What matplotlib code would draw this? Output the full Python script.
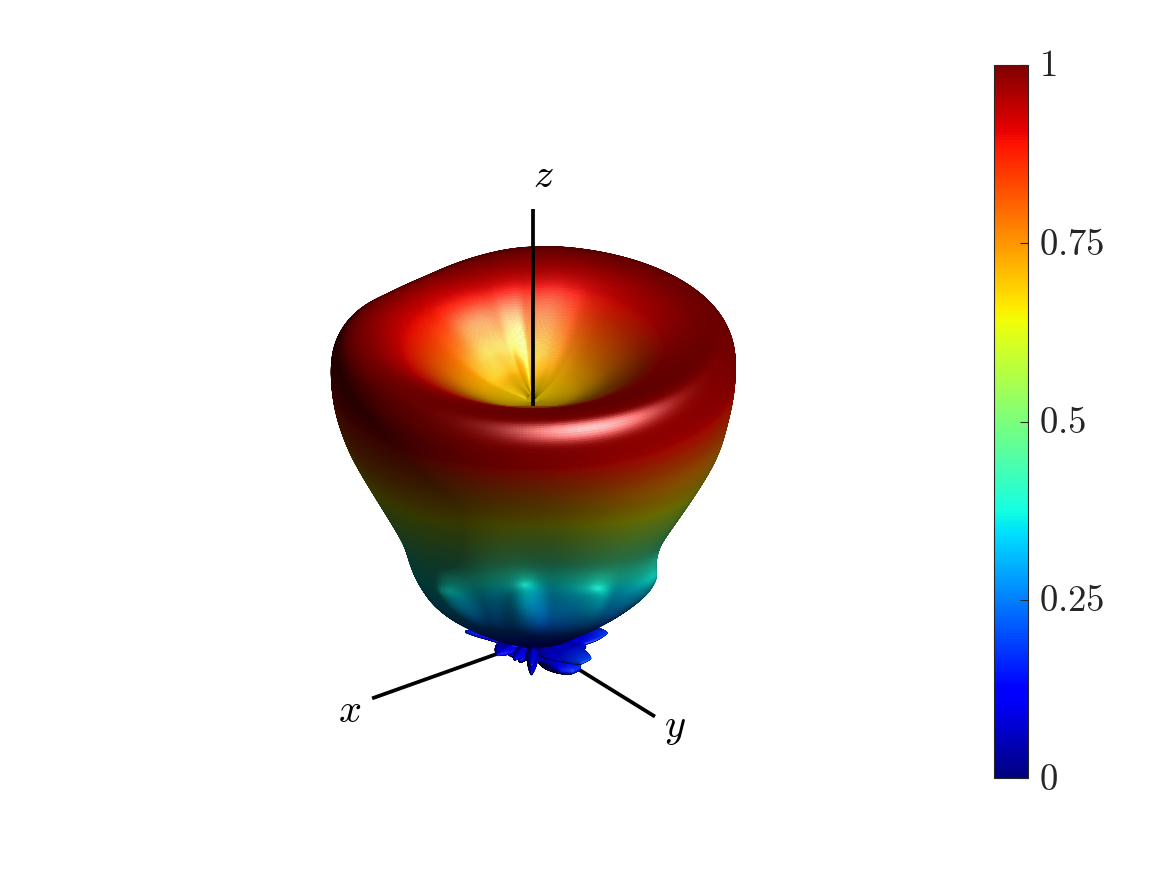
import numpy as np
import matplotlib
matplotlib.use('Agg')
import matplotlib.pyplot as plt
from matplotlib.cm import ScalarMappable
from matplotlib.colors import Normalize
from matplotlib.transforms import ScaledTranslation
from mpl_toolkits.mplot3d import proj3d

plt.rcParams['mathtext.fontset'] = 'cm'

# radiation pattern: one row per step along a meridian
r_rows = [0.68, 0.69, 0.71, 0.75, 0.82, 0.90, 0.96, 1.00, 0.97, 0.886, 0.80, 0.72, 0.56, 0.43, 0.37,
          0.33, 0.29, 0.24, 0.18, 0.13, 0.08, 0.11, 0.14, 0.16, 0.09, 0.15, 0.08, 0.03]
theta_right = [0, 5, 10, 14, 18, 21, 24.5, 28.5, 31.5, 35, 38, 41, 45, 49, 55,
               60, 64, 68, 71, 73, 75, 77, 79, 82, 88, 96, 115, 180]
theta_front = [0, 3, 6, 10, 17, 22, 25, 28, 32, 33.5, 34, 34, 33.5, 33.5, 35,
               38, 42, 52, 58, 64, 74, 80, 84, 88, 92, 98, 112, 180]
theta_left = [0, 5, 10, 14, 18, 21, 24.5, 28.5, 31.5, 35, 38, 40, 44, 49, 57,
              61, 65, 68, 71, 73, 75, 77, 79, 82, 88, 96, 115, 180]
theta_back = [0, 3, 6, 9, 12, 15, 19, 26, 31, 35, 38, 41, 45, 49, 55,
              60, 64, 68, 71, 73, 75, 77, 79, 82, 88, 96, 115, 180]
key_phi = [52.8, 142.8, 232.8, 322.8]

# azimuth tables, phi = 0, 15, 30 ... 345
rim_offset = [0, 0, 0, 0, 0, 0, 0, 0, 0, 0, 0, 0, 0, 0, 0, 0, -0.005, -0.02, -0.035, -0.035, -0.02,
              -0.01, 0, 0]
ridge_offset = [0, 0, 0, 0, 0, 0, 0, 0, 0, 0, 0, 0, 0, 0, -0.003, -0.008, -0.012, 0.01, 0.012, 0.006,
                0, 0, 0, 0]
neck_offset = [0.05, -0.01, 0, 0.05, -0.01, 0.01, 0.05, -0.01, 0.02, 0.05, 0, 0,
               0, 0, 0, 0, 0, 0, 0, 0, 0, 0, 0, 0.02]
rim_weight = [0, 0, 0, 0, 0.5, 1, 1, 1, 1, 1, 0.8, 0.5, 0.2, 0, 0, 0, 0, 0, 0, 0, 0, 0, 0, 0, 0, 0, 0, 0]
ridge_weight = [1, 1, 1, 1, 1, 0.6, 0.2, 0, 0, 0, 0, 0, 0, 0, 0, 0, 0, 0, 0, 0, 0, 0, 0, 0, 0, 0, 0, 0]
neck_weight = [0, 0, 0, 0, 0, 0, 0, 0, 0, 0, 0, 0, 0, 0, 0.4, 1, 1, 0.4, 0, 0, 0, 0, 0, 0, 0, 0, 0, 0]

# back lobes, phi = 0, 10 ... 350, upper ring then lower ring
lobe_az = [0.8, 0.9, 0.6, 0.85, 0.6, 1.0, 0.55, 0.75, 0.95, 1.3, 1.3, 1.0, 0.9, 1.1, 1.25, 1.1, 0.7, 0.6,
           0.6, 0.6, 0.6, 0.6, 0.6, 0.6, 0.6, 0.6, 0.6, 0.6, 0.6, 0.6, 0.6, 0.7, 1.15, 0.8, 0.6, 0.7]
lobe_low_az = [0.6, 0.6, 0.5, 0.7, 0.5, 1.05, 0.6, 0.7, 1.05, 1.2, 1.2, 1.0, 0.7, 0.8, 1.0, 0.7, 0.5, 0.5,
               0.5, 0.5, 0.5, 0.5, 0.5, 0.5, 0.5, 0.5, 0.5, 0.5, 0.5, 0.5, 0.5, 0.5, 0.6, 0.5, 0.5, 0.5]
lobe_weight = [0, 0, 0, 0, 0, 0, 0, 0, 0, 0, 0, 0, 0, 0, 0, 0, 0, 0, 0, 0, 0.5, 1, 1, 1, 0.5, 0, 0, 0]
lobe_low_weight = [0, 0, 0, 0, 0, 0, 0, 0, 0, 0, 0, 0, 0, 0, 0, 0, 0, 0, 0, 0, 0, 0, 0, 0, 0.5, 1, 1, 1]

axis_x_len = 0.506
axis_y_len = 0.506
axis_z_range = [0.667, 1.226]
cbar_ticks = [0, 0.25, 0.5, 0.75, 1]
cbar_labels = ['$0$', '$0.25$', '$0.5$', '$0.75$', '$1$']

elev = 28
azim = 52.8
unit_px = 399  # pixels for r = 1

n_phi = 360
per_row = 12


def circ_smooth(y, w):
    k = np.ones(w) / w
    return np.convolve(np.r_[y[-w:], y, y[:w]], k, mode='same')[w:-w]


def line_smooth(y, w):
    k = np.ones(w) / w
    return np.convolve(np.r_[np.full(w, y[0]), y, np.full(w, y[-1])], k, mode='same')[w:-w]


def az_table(vals, start, w):
    vals = np.asarray(vals, dtype=float)
    step = 360 / len(vals)
    p = (start + step * np.arange(len(vals))) % 360
    out = np.interp(phi_fine, p[np.argsort(p)], vals[np.argsort(p)], period=360)
    return circ_smooth(circ_smooth(out, w), w)


def fill_rows(col, w=13):
    out = np.interp(s_fine, np.arange(len(col)), col)
    return line_smooth(line_smooth(out, w), w)


n_rows = len(r_rows)
s_fine = np.linspace(0, n_rows - 1, (n_rows - 1) * per_row + 1)
phi_fine = np.arange(n_phi) * 360 / n_phi

theta_keys = np.array([theta_front, theta_right, theta_back, theta_left], dtype=float)
theta_grid = np.zeros((len(s_fine), n_phi))
az_rows = np.array([az_table(theta_keys[:, i], key_phi[0], 30) for i in range(n_rows)])
for j in range(n_phi):
    theta_grid[:, j] = fill_rows(az_rows[:, j])
theta_grid[0, :] = 0

r_base = fill_rows(r_rows, 9)
rim_w = fill_rows(rim_weight)
ridge_w = fill_rows(ridge_weight)
neck_w = fill_rows(neck_weight, 8)
lobe_w = np.interp(s_fine, np.arange(n_rows), lobe_weight)
lobe_low_w = np.interp(s_fine, np.arange(n_rows), lobe_low_weight)

r_grid = r_base[:, None] + rim_w[:, None] * az_table(rim_offset, 0, 9)[None, :] \
    + ridge_w[:, None] * az_table(ridge_offset, 0, 5)[None, :] \
    + neck_w[:, None] * az_table(neck_offset, 0, 8)[None, :]
r_grid = r_grid * (1 + lobe_w[:, None] * (az_table(lobe_az, 0, 2)[None, :] - 1))
r_grid = r_grid * (1 + lobe_low_w[:, None] * (az_table(lobe_low_az, 0, 2)[None, :] - 1))

# close the mesh in phi
theta_grid = np.c_[theta_grid, theta_grid[:, 0]]
r_grid = np.c_[r_grid, r_grid[:, 0]]
phi_mesh = np.radians(np.r_[phi_fine, 360])[None, :]
th = np.radians(theta_grid)
X = r_grid * np.sin(th) * np.cos(phi_mesh)
Y = r_grid * np.sin(th) * np.sin(phi_mesh)
Z = r_grid * np.cos(th)

# normals and phong lighting in camera coordinates
dXs, dXp = np.gradient(X)
dYs, dYp = np.gradient(Y)
dZs, dZp = np.gradient(Z)
N = np.stack([dYs * dZp - dZs * dYp, dZs * dXp - dXs * dZp, dXs * dYp - dYs * dXp], axis=-1)
N = N / (np.linalg.norm(N, axis=-1, keepdims=True) + 1e-12)
N[0, :, :] = [0, 0, 1]
pos = np.stack([X, Y, Z], axis=-1)
flip = np.sign(np.sum(N * pos, axis=-1, keepdims=True))
flip[flip == 0] = 1
N = N * flip

a = np.radians(azim)
e = np.radians(elev)
cam_right = np.array([-np.sin(a), np.cos(a), 0])
cam_up = np.array([-np.sin(e) * np.cos(a), -np.sin(e) * np.sin(a), np.cos(e)])
cam_view = np.array([np.cos(e) * np.cos(a), np.cos(e) * np.sin(a), np.sin(e)])
light = 0.38 * cam_right + 0.3 * cam_up + 0.75 * cam_view
light = light / np.linalg.norm(light)
half = light + cam_view
half = half / np.linalg.norm(half)

diff = np.clip(np.sum(N * light, axis=-1), 0, 1)
spec = np.clip(np.sum(N * half, axis=-1), 0, 1) ** 20
spec = spec * (1 - 0.7 * (lobe_w + lobe_low_w)[:, None])
base = plt.get_cmap('jet')(np.clip(r_grid, 0, 1))[..., :3]
shade = 0.22 + 0.75 * diff
rgb = np.clip(base * shade[..., None] + 0.8 * spec[..., None], 0, 1)
facecolors = np.dstack([rgb, np.ones(r_grid.shape)])

fig = plt.figure(figsize=(11.67, 8.75), dpi=100)
side = 1400
ax = fig.add_axes([(514 - side / 2) / 1167, (875 - 660 - side / 2) / 875, side / 1167, side / 875],
                  projection='3d', proj_type='ortho', computed_zorder=False)
ax.set_box_aspect((1, 1, 1))
ax.view_init(elev=elev, azim=azim)
ax.set_axis_off()

# scale the limits so that one unit of r is unit_px pixels
ax.set_xlim(-1, 1)
ax.set_ylim(-1, 1)
ax.set_zlim(-1, 1)
ax.apply_aspect()
M = ax.get_proj()
p0 = ax.transData.transform(proj3d.proj_transform(0, 0, 0, M)[:2])
p1 = ax.transData.transform(proj3d.proj_transform(*cam_right, M)[:2])
lim = np.linalg.norm(p1 - p0) / unit_px
ax.set_xlim(-lim, lim)
ax.set_ylim(-lim, lim)
ax.set_zlim(-lim, lim)

ax.plot([0, axis_x_len], [0, 0], [0, 0], color='k', lw=2.7, zorder=1, solid_capstyle='butt')
ax.plot([0, 0], [0, axis_y_len], [0, 0], color='k', lw=2.7, zorder=1, solid_capstyle='butt')
ax.plot_surface(X, Y, Z, facecolors=facecolors, rcount=X.shape[0], ccount=X.shape[1], shade=False,
                linewidth=0.4, antialiased=True, zorder=2)
ax.plot([0, 0], [0, 0], axis_z_range, color='k', lw=2.7, zorder=3, solid_capstyle='butt')

fig.text(350 / 1167, 1 - 711 / 875, '$x$', fontsize=29, ha='center', va='center', color='k')
fig.text(675 / 1167, 1 - 727 / 875, '$y$', fontsize=29, ha='center', va='center', color='k')
fig.text(543 / 1167, 1 - 176 / 875, '$z$', fontsize=29, ha='center', va='center', color='k')

cax = fig.add_axes([994 / 1167, (875 - 778) / 875, 34 / 1167, 713 / 875])
sm = ScalarMappable(norm=Normalize(0, 1), cmap='jet')
cb = fig.colorbar(sm, cax=cax, ticks=cbar_ticks)
cb.ax.set_yticklabels(cbar_labels)
cb.ax.tick_params(direction='in', length=6, width=0.8, color='0.15', labelcolor='0.15', labelsize=26.5, pad=8)
cb.outline.set_edgecolor('0.15')
cb.outline.set_linewidth(0.8)
for t in cb.ax.get_yticklabels():
    t.set_transform(t.get_transform() + ScaledTranslation(0, 3 / 100, fig.dpi_scale_trans))

fig.savefig('out.png', dpi=100)
